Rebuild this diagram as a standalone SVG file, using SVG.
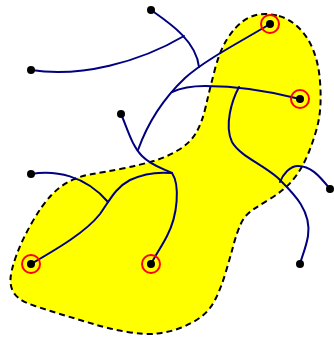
<svg xmlns="http://www.w3.org/2000/svg" width="334" height="337" viewBox="0 0 334 337">
<style>
.region{fill:#ffff00;stroke:#000;stroke-width:2;stroke-dasharray:6,4}
.wire{fill:none;stroke:#000080;stroke-width:2;stroke-linecap:round}
.dot{fill:#000}
.ring{fill:none;stroke:#ff0000;stroke-width:2}
</style>
<rect width="334" height="337" fill="#fff"/>
<path id="region" class="region" d="M279,16 Q290,19 299,28 Q308,37 313,49.5 Q318,62 319.5,76 Q321,90 320.5,103.5 Q320,117 316.5,129.5 Q313,142 308.5,153 Q304,164 298,173 Q292,182 285,188 Q278,194 269,199.5 Q260,205 252.5,210 Q245,215 241,223.5 Q237,232 233.5,245 Q230,258 225.5,273 Q221,288 215.5,299 Q210,310 201.5,316.5 Q193,323 181.5,327.5 Q170,332 157.5,333.5 Q145,335 127.5,332 Q110,329 95,324.5 Q80,320 65,315.5 Q50,311 35,306 Q20,301 15,294.5 Q10,288 10.5,279 Q11,270 16.5,255 Q22,240 32,222.5 Q42,205 51,195.5 Q60,186 70,181 Q80,176 92.5,174 Q105,172 122.5,168.5 Q140,165 153.5,161 Q167,157 178.5,150 Q190,143 196,133 Q202,123 206,105.5 Q210,88 215,69 Q220,50 227.5,38.5 Q235,27 242.5,21.5 Q250,16 259,14.5 Q268,13 279,16 Z"/>
<g id="connectors">
<path class="wire" d="M151,10 C168,22 196,40 199,67"/>
<path class="wire" d="M31,70 C80,78 140,62 184,36"/>
<path class="wire" d="M270,24 C240,42 205,60 185,78 C165,97 148,122 138,150"/>
<path class="wire" d="M300,99 Q250,86 205,86 Q185,86 172,92"/>
<path class="wire" d="M239,87 C232,100 224,125 232,142 C240,156 262,164 278,178 C292,192 312,210 308,236 C306,248 302,256 300,264"/>
<path class="wire" d="M330,189 C318,174 310,166 298,166 C290,166 283,174 280,182"/>
<path class="wire" d="M121,114 C128,130 132,146 142,156 C152,166 162,168 172,173"/>
<path class="wire" d="M172,173 C180,185 178,215 167,236 C162,246 155,256 151,264"/>
<path class="wire" d="M31,264 C55,250 85,233 100,214 C110,200 115,188 130,180 C145,173 160,172 171,173"/>
<path class="wire" d="M31,174 C55,170 85,175 108,202"/>
</g>
<g id="n1"><circle class="dot" cx="151" cy="10" r="4"/></g>
<g id="n2"><circle class="dot" cx="31" cy="70" r="4"/></g>
<g id="n3"><circle class="dot" cx="121" cy="114" r="4"/></g>
<g id="n4"><circle class="dot" cx="31" cy="174" r="4"/></g>
<g id="n5"><circle class="dot" cx="270" cy="24" r="4"/><circle class="ring" cx="270" cy="24" r="9"/></g>
<g id="n6"><circle class="dot" cx="300" cy="99" r="4"/><circle class="ring" cx="300" cy="99" r="9"/></g>
<g id="n7"><circle class="dot" cx="31" cy="264" r="4"/><circle class="ring" cx="31" cy="264" r="9"/></g>
<g id="n8"><circle class="dot" cx="151" cy="264" r="4"/><circle class="ring" cx="151" cy="264" r="9"/></g>
<g id="n9"><circle class="dot" cx="330" cy="189" r="4"/></g>
<g id="n10"><circle class="dot" cx="300" cy="264" r="4"/></g>
</svg>
